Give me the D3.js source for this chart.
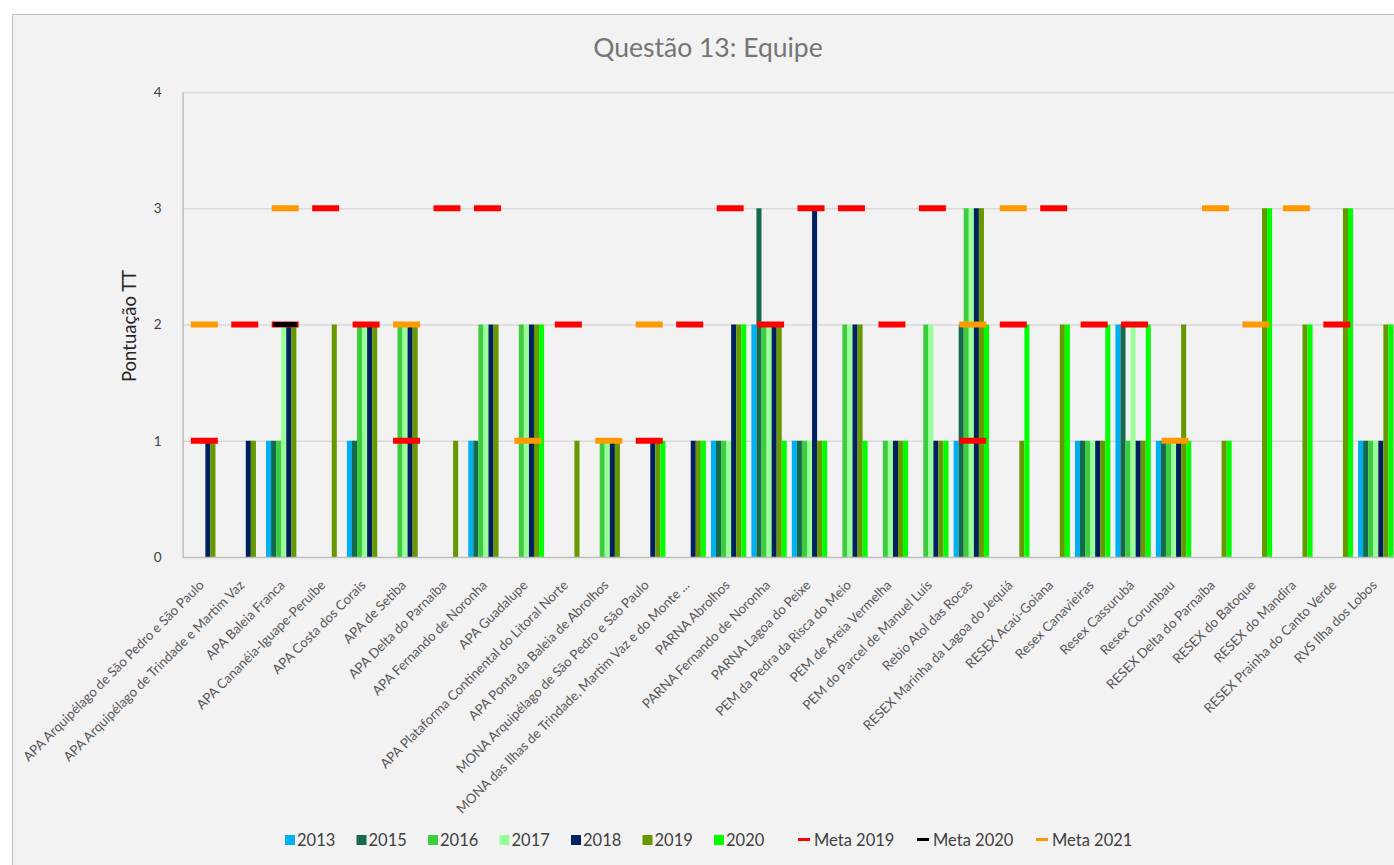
<!DOCTYPE html>
<html>
<head>
<meta charset="utf-8">
<script src="https://cdn.jsdelivr.net/npm/d3@7"></script>
<style>
  body { margin: 0; background: #fff; }
  svg text { font-family: Lato, "Open Sans", sans-serif; }
</style>
</head>
<body>
<div id="chart"></div>
<script>
    // categories (unidades) and values
    const categories = [
        "APA Arquipélago de São Pedro e São Paulo",
        "APA Arquipélago de Trindade e Martim Vaz",
        "APA Baleia Franca",
        "APA Cananéia-Iguape-Peruíbe",
        "APA Costa dos Corais",
        "APA de Setiba",
        "APA Delta do Parnaíba",
        "APA Fernando de Noronha",
        "APA Guadalupe",
        "APA Plataforma Continental do Litoral Norte",
        "APA Ponta da Baleia de Abrolhos",
        "MONA Arquipélago de São Pedro e São Paulo",
        "MONA das Ilhas de Trindade, Martim Vaz e do Monte ...",
        "PARNA Abrolhos",
        "PARNA Fernando de Noronha",
        "PARNA Lagoa do Peixe",
        "PEM da Pedra da Risca do Meio",
        "PEM de Areia Vermelha",
        "PEM do Parcel de Manuel Luís",
        "Rebio Atol das Rocas",
        "RESEX  Marinha da Lagoa do Jequiá",
        "RESEX Acaú-Goiana",
        "Resex Canavieiras",
        "Resex Cassurubá",
        "Resex Corumbau",
        "RESEX Delta  do Parnaíba",
        "RESEX do Batoque",
        "RESEX do Mandira",
        "RESEX Prainha do Canto Verde",
        "RVS Ilha dos Lobos"
    ];

    const n = null;
    const v2013 = [n, n, 1, n, 1, n, n, 1, n, n, n, n, n, 1, 2, 1, n, n, n, 1, n, n, 1, 2, 1, n, n, n, n, 1];
    const v2015 = [n, n, 1, n, 1, n, n, 1, n, n, n, n, n, 1, 3, 1, n, n, n, 2, n, n, 1, 2, 1, n, n, n, n, 1];
    const v2016 = [n, n, 1, n, 2, 2, n, 2, 2, n, 1, n, n, 1, 2, 1, 2, 1, 2, 3, n, n, 1, 1, 1, n, n, n, n, 1];
    const v2017 = [n, n, 2, n, 2, 2, n, 2, 2, n, 1, n, n, 1, 2, 1, 2, 1, 2, 3, n, n, 1, 2, 1, n, n, n, n, 1];
    const v2018 = [1, 1, 2, n, 2, 2, n, 2, 2, n, 1, 1, 1, 2, 2, 3, 2, 1, 1, 3, n, n, 1, 1, 1, n, n, n, n, 1];
    const v2019 = [1, 1, 2, 2, 2, 2, 1, 2, 2, 1, 1, 1, 1, 2, 2, 1, 2, 1, 1, 3, 1, 2, 1, 1, 2, 1, 3, 2, 3, 2];
    const v2020 = [n, n, n, n, n, n, n, n, 2, n, n, 1, 1, 2, 1, 1, 1, 1, 1, 2, 2, 2, 2, 2, 1, 1, 3, 2, 3, 2];

    const meta2019 = [1, 2, 2, 3, 2, 1, 3, 3, n, 2, n, 1, 2, 3, 2, 3, 3, 2, 3, 1, 2, 3, 2, 2, n, n, n, n, 2, n];
    const meta2020 = [n, n, 2, n, n, n, n, n, n, n, n, n, n, n, n, n, n, n, n, n, n, n, n, n, n, n, n, n, n, n];
    const meta2021 = [2, n, 3, n, n, 2, n, n, 1, n, 1, 2, n, n, n, n, n, n, n, 2, 3, n, n, n, 1, 3, 2, 3, n, n];

    const yTicks = [0, 1, 2, 3, 4];

    const barSeries = [
        {name: "2013", values: v2013, color: "#00b0f0"},
        {name: "2015", values: v2015, color: "#15694c"},
        {name: "2016", values: v2016, color: "#3ccc3c"},
        {name: "2017", values: v2017, color: "#99ff99"},
        {name: "2018", values: v2018, color: "#002060"},
        {name: "2019", values: v2019, color: "#669900"},
        {name: "2020", values: v2020, color: "#00ff00"}
    ];
    const metaSeries = [
        {name: "Meta 2019", values: meta2019, color: "#ff0000", w: 27, h: 6},
        {name: "Meta 2020", values: meta2020, color: "#000000", w: 24, h: 5},
        {name: "Meta 2021", values: meta2021, color: "#ff9900", w: 27, h: 6}
    ];

    const W = 1394, H = 865;
    const plot = {left: 182.6, right: 1396, top: 92, bottom: 557};

    const svg = d3.select("#chart")
        .append("svg")
        .attr("width", W)
        .attr("height", H);

    // chart frame
    svg.append("rect")
        .attr("x", 12.5).attr("y", 14.5)
        .attr("width", 1420).attr("height", 870)
        .attr("fill", "#f2f2f2")
        .attr("stroke", "#bfbfbf");

    svg.append("text")
        .attr("x", 708).attr("y", 57)
        .attr("text-anchor", "middle")
        .attr("font-size", 26.5)
        .attr("fill", "#757575")
        .text("Questão 13: Equipe");

    const x = d3.scaleBand()
        .domain(d3.range(categories.length))
        .range([plot.left, plot.right])
        .paddingInner(0.125)
        .paddingOuter(0.0625);

    const xs = d3.scaleBand()
        .domain(barSeries.map(d => d.name))
        .range([0, x.bandwidth()]);

    const y = d3.scaleLinear()
        .domain([0, 4])
        .range([plot.bottom, plot.top]);

    // gridlines
    svg.append("g")
        .selectAll("line")
        .data(yTicks.filter(t => t > 0))
        .join("line")
        .attr("x1", plot.left).attr("x2", plot.right + 20)
        .attr("y1", d => y(d) + 0.5).attr("y2", d => y(d) + 0.5)
        .attr("stroke", "#d9d9d9")
        .attr("stroke-width", 1.5);

    // y axis
    const yAxis = svg.append("g")
        .attr("transform", "translate(" + plot.left + ",0)")
        .call(d3.axisLeft(y).tickValues(yTicks).tickSize(0).tickPadding(21).tickFormat(d3.format("d")));
    yAxis.select(".domain").attr("stroke", "#bfbfbf").attr("stroke-width", 1.5);
    yAxis.selectAll("text").attr("font-size", 13.5).attr("fill", "#404040")
        .attr("font-family", "Lato, sans-serif");

    svg.append("text")
        .attr("transform", "translate(136,326) rotate(-90)")
        .attr("text-anchor", "middle")
        .attr("font-size", 18.5)
        .attr("fill", "#262626")
        .text("Pontuação TT");

    // bars
    const groups = svg.append("g")
        .selectAll("g")
        .data(barSeries)
        .join("g")
        .attr("fill", d => d.color);

    groups.selectAll("rect")
        .data(s => s.values.map((v, i) => ({i, v, name: s.name})).filter(d => d.v != null))
        .join("rect")
        .attr("x", d => x(d.i) + xs(d.name))
        .attr("width", xs.bandwidth())
        .attr("y", d => y(d.v))
        .attr("height", d => y(0) - y(d.v));

    // x axis
    svg.append("line")
        .attr("x1", plot.left).attr("x2", plot.right + 20)
        .attr("y1", plot.bottom + 0.5).attr("y2", plot.bottom + 0.5)
        .attr("stroke", "#bfbfbf").attr("stroke-width", 1.5);

    svg.append("g")
        .selectAll("text")
        .data(categories)
        .join("text")
        .attr("transform", (d, i) => "translate(" + (x(i) + x.bandwidth() / 2 + 2) + "," + 586 + ") rotate(-45)")
        .attr("text-anchor", "end")
        .attr("font-size", 13.3)
        .attr("fill", "#595959")
        .text(d => d);

    // meta markers (dashes)
    metaSeries.forEach(m => {
        svg.append("g")
            .selectAll("rect")
            .data(m.values.map((v, i) => ({i, v})).filter(d => d.v != null))
            .join("rect")
            .attr("x", d => x(d.i) + x.bandwidth() / 2 + 1.5 - m.w / 2)
            .attr("y", d => y(d.v) - m.h / 2)
            .attr("width", m.w)
            .attr("height", m.h)
            .attr("fill", m.color);
    });

    // legend
    const legend = svg.append("g").attr("font-size", 16.5).attr("fill", "#404040");
    barSeries.forEach((s, i) => {
        const lx = 285 + i * 71.5;
        legend.append("rect").attr("x", lx).attr("y", 835).attr("width", 10).attr("height", 10).attr("fill", s.color);
        legend.append("text").attr("x", lx + 12).attr("y", 846).text(s.name);
    });
    metaSeries.forEach((m, j) => {
        const lx = 798 + j * 119;
        legend.append("rect").attr("x", lx).attr("y", 838).attr("width", 12).attr("height", 3).attr("fill", m.color);
        legend.append("text").attr("x", lx + 16).attr("y", 846).text(m.name);
    });
</script>
</body>
</html>
